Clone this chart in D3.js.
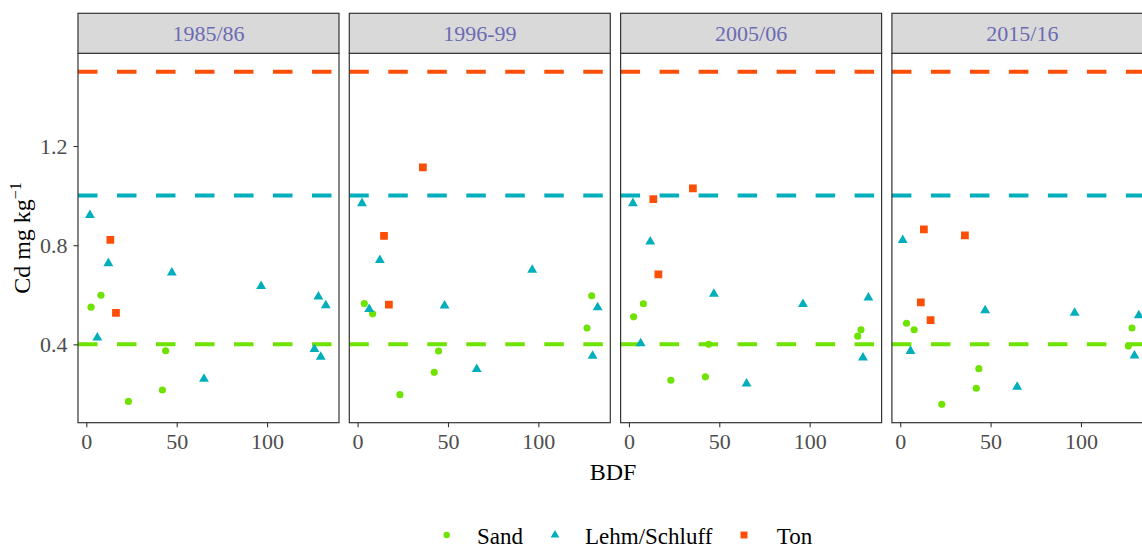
<!DOCTYPE html>
<html>
<head>
<meta charset="utf-8">
<script src="https://cdn.jsdelivr.net/npm/d3@7"></script>
<style>
  body { margin: 0; background: #fff; }
  svg { display: block; }
</style>
</head>
<body>
<svg width="1142" height="550"></svg>
<script>
// facets
var periods = ["1985/86", "1996-99", "2005/06", "2015/16"];
var soilTypes = ["Sand", "Lehm/Schluff", "Ton"];
var soilColours = ["#6FE300", "#00AFBB", "#FC4E07"];
// Pruefwerte je Bodenart (Sand, Lehm/Schluff, Ton)
var thresholds = [0.4, 1.0, 1.5];
var yTicks = [0.4, 0.8, 1.2];
var xTicks = [0, 50, 100];

// [BDF, Cd] per period
var sandPts = [
  [[2.6, 0.55], [8.1, 0.598], [43.9, 0.374], [42.1, 0.216], [23.3, 0.17]],
  [[3.7, 0.565], [8.3, 0.523], [44.8, 0.373], [42.4, 0.287], [23.4, 0.197], [129.5, 0.596], [126.9, 0.466]],
  [[2.6, 0.511], [8.0, 0.564], [44.1, 0.40], [42.3, 0.269], [23.2, 0.255], [126.6, 0.433], [128.4, 0.459]],
  [[3.5, 0.485], [7.7, 0.459], [43.5, 0.302], [42.1, 0.223], [23.0, 0.158], [128.2, 0.466], [126.2, 0.393]]
];
var lehmPts = [
  [[2.0, 0.921], [12.2, 0.727], [6.1, 0.427], [47.3, 0.689], [96.7, 0.635], [65.1, 0.261],
   [128.4, 0.592], [132.5, 0.557], [126.2, 0.381], [129.7, 0.349]],
  [[2.4, 0.969], [12.3, 0.74], [6.4, 0.542], [48.1, 0.556], [96.6, 0.70], [65.9, 0.30],
   [132.8, 0.549], [130.0, 0.353]],
  [[2.2, 0.969], [11.8, 0.814], [6.5, 0.404], [47.0, 0.603], [96.3, 0.562], [65.1, 0.241],
   [132.5, 0.588], [129.5, 0.346]],
  [[1.4, 0.82], [5.7, 0.373], [47.0, 0.537], [96.5, 0.527], [64.7, 0.228], [132.0, 0.517], [129.6, 0.354]]
];
var tonPts = [
  [[13.3, 0.821], [16.4, 0.527]],
  [[36.1, 1.114], [14.6, 0.838], [17.3, 0.56]],
  [[13.5, 0.986], [35.4, 1.029], [16.3, 0.682]],
  [[13.1, 0.864], [35.8, 0.84], [11.4, 0.569], [16.8, 0.498]]
];
var allPts = [sandPts, lehmPts, tonPts];

var svg = d3.select("svg");
var font = "'Liberation Serif', 'Times New Roman', serif";

var panelLeft = 78, panelW = 261, panelPitch = 271.3;
var panelTop = 53.3, panelBottom = 422.7, stripTop = 13.3;

var y = d3.scaleLinear().domain([0.084, 1.574]).range([panelBottom, panelTop]);

var symbols = [d3.symbolCircle, d3.symbolTriangle, d3.symbolSquare];
var symSize = [40, 42, 60];

var clipId = 0;
periods.forEach(function (period, i) {
  var x0 = panelLeft + i * panelPitch;
  var x = d3.scaleLinear().domain([-4.6, 139.8]).range([x0, x0 + panelW]);

  var g = svg.append("g").attr("class", "panel");

  // clip so the last panel just runs off the edge
  clipId++;
  g.append("clipPath").attr("id", "clip" + clipId)
    .append("rect").attr("x", x0).attr("y", panelTop)
    .attr("width", panelW).attr("height", panelBottom - panelTop);

  var inner = g.append("g").attr("clip-path", "url(#clip" + clipId + ")");

  // threshold lines
  inner.selectAll("line.thr")
    .data(thresholds)
    .enter().append("line")
    .attr("class", "thr")
    .attr("x1", x0).attr("x2", x0 + panelW)
    .attr("y1", function (d) { return y(d); })
    .attr("y2", function (d) { return y(d); })
    .attr("stroke", function (d, k) { return soilColours[k]; })
    .attr("stroke-width", 4)
    .attr("stroke-dasharray", "19.5,19.5");

  // points
  soilTypes.forEach(function (s, k) {
    inner.selectAll("path.p" + k)
      .data(allPts[k][i])
      .enter().append("path")
      .attr("class", "p" + k)
      .attr("d", d3.symbol().type(symbols[k]).size(symSize[k]))
      .attr("transform", function (d) {
        return "translate(" + x(d[0]) + "," + y(d[1]) + ")";
      })
      .attr("fill", soilColours[k]);
  });

  // panel border
  g.append("rect")
    .attr("x", x0).attr("y", panelTop)
    .attr("width", panelW).attr("height", panelBottom - panelTop)
    .attr("fill", "none").attr("stroke", "#333").attr("stroke-width", 1.2);

  // strip
  g.append("rect")
    .attr("x", x0).attr("y", stripTop)
    .attr("width", panelW).attr("height", panelTop - stripTop)
    .attr("fill", "#D9D9D9").attr("stroke", "#333").attr("stroke-width", 1.2);
  g.append("text")
    .attr("x", x0 + panelW / 2).attr("y", (stripTop + panelTop) / 2 + 8)
    .attr("text-anchor", "middle")
    .style("font-family", font).style("font-size", "22px")
    .attr("fill", "#6B6BB3")
    .text(period);

  // x axis
  var xAxis = d3.axisBottom(x).tickValues(xTicks).tickSize(4.5).tickPadding(6);
  var ax = g.append("g").attr("transform", "translate(0," + panelBottom + ")").call(xAxis);
  ax.select(".domain").remove();
  ax.selectAll("line").attr("stroke", "#333").attr("stroke-width", 1.1);
  ax.selectAll("text").style("font-family", font).style("font-size", "22px")
    .attr("fill", "#4D4D4D").attr("dy", "0.71em");

  if (i === 0) {
    var yAxis = d3.axisLeft(y).tickValues(yTicks).tickSize(4.5).tickPadding(6)
      .tickFormat(d3.format(".1f"));
    var ay = g.append("g").attr("transform", "translate(" + x0 + ",0)").call(yAxis);
    ay.select(".domain").remove();
    ay.selectAll("line").attr("stroke", "#333").attr("stroke-width", 1.1);
    ay.selectAll("text").style("font-family", font).style("font-size", "22px")
      .attr("fill", "#4D4D4D");
  }
});

// axis titles
svg.append("text")
  .attr("x", 613).attr("y", 480)
  .attr("text-anchor", "middle")
  .style("font-family", font).style("font-size", "24px")
  .text("BDF");

var yt = svg.append("text")
  .attr("transform", "translate(30,238) rotate(-90)")
  .attr("text-anchor", "middle")
  .style("font-family", font).style("font-size", "24px");
yt.append("tspan").text("Cd mg kg");
yt.append("tspan").attr("dy", -9).style("font-size", "16px").text("\u22121");

// legend
var legX = [446.7, 555, 744];
var legTextX = [477, 585, 776.7];
var leg = svg.append("g").attr("class", "legend");
soilTypes.forEach(function (s, k) {
  leg.append("path")
    .attr("d", d3.symbol().type(symbols[k]).size(symSize[k] * 0.8))
    .attr("transform", "translate(" + legX[k] + ",535)")
    .attr("fill", soilColours[k]);
  leg.append("text")
    .attr("x", legTextX[k]).attr("y", 544)
    .style("font-family", font).style("font-size", "23px")
    .text(s);
});
</script>
</body>
</html>
